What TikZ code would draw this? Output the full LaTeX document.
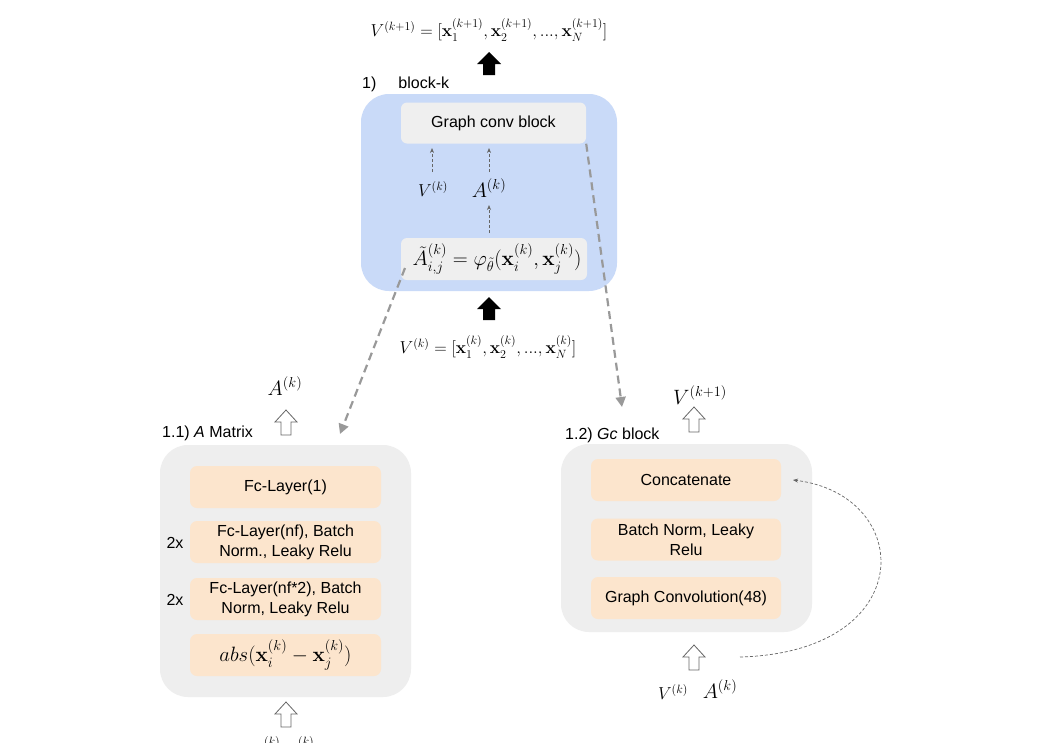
\documentclass[tikz,border=0pt]{standalone}
\usepackage[no-math]{fontspec}
\setmainfont{Liberation Sans}
\usepackage{amsmath}
\usetikzlibrary{arrows.meta}
\definecolor{bluebg}{HTML}{C9DAF8}
\definecolor{graybg}{HTML}{EEEEEE}
\definecolor{innergray}{HTML}{EFEFEF}
\definecolor{orangebg}{HTML}{FCE5CD}
\definecolor{dashgray}{HTML}{999999}
\definecolor{thingray}{HTML}{666666}
\tikzset{
  lbl/.style={font=\fontsize{16}{19}\selectfont, inner sep=0pt},
  mth/.style={font=\fontsize{16.5}{19}\selectfont, inner sep=0pt},
  bigmth/.style={font=\fontsize{22}{24}\selectfont, inner sep=0pt},
  smallmth/.style={font=\fontsize{18.5}{21}\selectfont, inner sep=0pt},
  bluebox/.style={fill=bluebg, rounded corners=28pt, inner sep=0pt},
  graybox/.style={fill=graybg, rounded corners=28pt, inner sep=0pt},
  innerbox/.style={fill=innergray, rounded corners=6pt, inner sep=0pt, font=\fontsize{16}{19}\selectfont},
  layerbox/.style={fill=orangebg, rounded corners=7pt, inner sep=0pt, minimum width=191pt, minimum height=42pt, align=center, font=\fontsize{16}{20}\selectfont},
  thinarrow/.style={draw=thingray, line width=0.7pt, dash pattern=on 3pt off 2pt, -{Stealth[length=5pt,width=4pt]}},
  thickarrow/.style={draw=dashgray, line width=2.2pt, dash pattern=on 8pt off 5pt, -{Triangle[length=10pt,width=10pt]}},
  hollowup/.pic={\draw[fill=white, draw=thingray, line width=0.8pt, line join=miter]
     (-5,0) -- (-5,-13) -- (-11,-13) -- (0,-25) -- (11,-13) -- (5,-13) -- (5,0) -- cycle;},
  solidup/.pic={\fill[black]
     (-6,0) -- (-6,-11) -- (-12,-11) -- (0,-23) -- (12,-11) -- (6,-11) -- (6,0) -- cycle;}
}
\begin{document}
\begin{tikzpicture}[x=1pt,y=-1pt]
\useasboundingbox (0,0) rectangle (1042,742);
\fill[white] (0,0) rectangle (1042,742);

% ---------- block-k ----------
\node[mth] (vout) at (489,30) {$V^{(k+1)} = [\mathbf{x}_1^{(k+1)}, \mathbf{x}_2^{(k+1)}, ..., \mathbf{x}_N^{(k+1)}]$};
\pic at (489,75) {solidup};
\node[lbl, anchor=west] (blabel) at (362,84) {1)\hspace{22pt}block-k};

\node[bluebox, minimum width=256pt, minimum height=197pt] (blue) at (489,192.5) {};
\node[innerbox, minimum width=185pt, minimum height=41pt] (gcb) at (493.5,123) {Graph conv block};
\node[innerbox, minimum width=186pt, minimum height=42pt, font=\fontsize{19.2}{21}\selectfont] (phi) at (494,259)
  {\hspace{6pt}$\tilde{A}_{i,j}^{(k)} = \varphi_{\tilde{\theta}}(\mathbf{x}_i^{(k)}, \mathbf{x}_j^{(k)})$};

\node[smallmth] (vk1) at (433,189) {$V^{(k)}$};
\node[bigmth] (ak1) at (489,188) {$A^{(k)}$};
\coordinate (gcbv) at (432,148);
\coordinate (gcba) at (489,148);
\coordinate (vk1top) at (432,172);
\coordinate (ak1top) at (489,172);
\draw[thinarrow] (vk1top) -- (gcbv);
\draw[thinarrow] (ak1top) -- (gcba);
\coordinate (phitop) at (489,233);
\coordinate (akbot) at (489,205);
\draw[thinarrow] (phitop) -- (akbot);

\pic at (489,320) {solidup};
\node[mth, font=\fontsize{17.3}{20}\selectfont] (vin) at (488,347) {$V^{(k)} = [\mathbf{x}_1^{(k)}, \mathbf{x}_2^{(k)}, ..., \mathbf{x}_N^{(k)}]$};

% ---------- A matrix ----------
\node[bigmth] (aout) at (285,386) {$A^{(k)}$};
\pic at (286,435) {hollowup};
\node[lbl, anchor=west] (alabel) at (162,433) {1.1) \textit{A} Matrix};
\node[graybox, minimum width=251pt, minimum height=252pt] (abox) at (285.5,571) {};
\node[layerbox] (fc1) at (285.5,487) {Fc-Layer(1)};
\node[layerbox] (fcnf) at (285.5,542) {Fc-Layer(nf), Batch\\Norm., Leaky Relu};
\node[layerbox] (fcnf2) at (285.5,599) {Fc-Layer(nf*2), Batch\\Norm, Leaky Relu};
\node[layerbox, font=\fontsize{20}{22}\selectfont] (absn) at (285.5,655) {$abs(\mathbf{x}_i^{(k)} - \mathbf{x}_j^{(k)})$};
\node[lbl] (rep1) at (175,543) {2x};
\node[lbl] (rep2) at (175,600) {2x};
\pic at (286,727) {hollowup};
\node[inner sep=0pt, font=\fontsize{18}{20}\selectfont, anchor=north] (ain) at (284,736) {$\mathbf{x}_i^{(k)}, \mathbf{x}_j^{(k)}$};

% ---------- Gc block ----------
\node[inner sep=0pt, font=\fontsize{21}{23}\selectfont] (vout2) at (700,395) {$V^{(k+1)}$};
\pic at (694,432) {hollowup};
\node[lbl, anchor=west] (glabel) at (565,435) {1.2) \textit{Gc} block};
\node[graybox, minimum width=251pt, minimum height=188pt] (gbox) at (686.5,538) {};
\node[layerbox, minimum width=190pt] (concat) at (686,480) {Concatenate};
\node[layerbox, minimum width=190pt] (bnorm) at (686,539.5) {Batch Norm, Leaky\\Relu};
\node[layerbox, minimum width=190pt] (gconv) at (686,598) {Graph Convolution(48)};
\pic at (694,670) {hollowup};
\node[smallmth] (vin2) at (673,692) {$V^{(k)}$};
\node[inner sep=0pt, font=\fontsize{21.5}{24}\selectfont] (ain2) at (720,689) {$A^{(k)}$};

% ---------- connectors ----------
\coordinate (s1) at (405,268);
\coordinate (e1) at (340,434);
\draw[thickarrow] (s1) -- (e1);
\coordinate (e2) at (622,407);
\draw[thickarrow] (gcb.south east) -- (e2);
\coordinate (c0) at (740,657);
\coordinate (c1) at (793,480);
\draw[thinarrow] (c0) .. controls (920,652) and (915,495) .. (c1);
\end{tikzpicture}
\end{document}
